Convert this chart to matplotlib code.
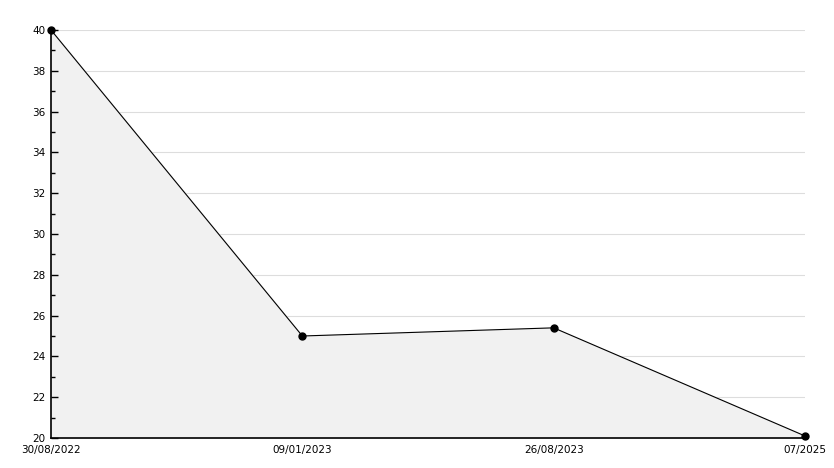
import numpy as np
import matplotlib
matplotlib.use("Agg")
import matplotlib.pyplot as plt
from matplotlib.ticker import MultipleLocator

# data
etichete = ["30/08/2022", "09/01/2023", "26/08/2023", "07/2025"]
valori = [40, 25, 25.4, 20.1]

fig = plt.figure(figsize=(8.34, 4.68), dpi=100)
ax = fig.add_axes([51/834, 1 - 438/468, 754/834, 408/468])

x = np.arange(len(valori))
ax.fill_between(x, 20, valori, color="#f1f1f1", zorder=1)
ax.plot(x, valori, color="black", lw=0.8, marker="o", ms=5, zorder=3, clip_on=False)

ax.set_xlim(0, len(valori) - 1)
ax.set_ylim(20, 40)
ax.yaxis.set_major_locator(MultipleLocator(2))
ax.yaxis.set_minor_locator(MultipleLocator(1))
ax.set_xticks(x)
ax.set_xticklabels(etichete)

# liniile de grila sub umplere, dar tick-urile deasupra
for yv in ax.get_yticks():
    if 20 < yv <= 40:
        ax.axhline(yv, color="#dddddd", lw=0.8, zorder=0.5)

for s in ["top", "right"]:
    ax.spines[s].set_visible(False)
for s in ["left", "bottom"]:
    ax.spines[s].set_linewidth(1.2)
    ax.spines[s].set_zorder(4)

ax.tick_params(axis="y", which="major", direction="in", length=5, width=1, labelsize=7.5, pad=4)
ax.tick_params(axis="y", which="minor", direction="in", length=3, width=1)
ax.tick_params(axis="x", length=0, labelsize=7.5, pad=5)

fig.savefig("out.png", dpi=100)
